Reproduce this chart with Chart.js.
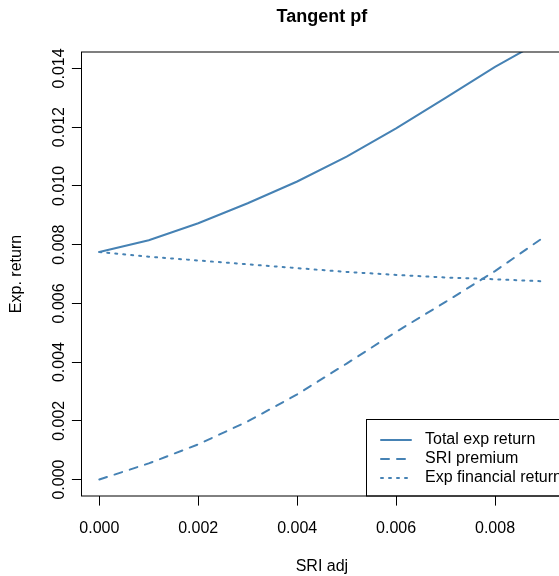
<!DOCTYPE html>
<html>
<head>
<meta charset="utf-8">
<script src="https://cdn.jsdelivr.net/npm/chart.js@4.4.0/dist/chart.umd.min.js"></script>
<style>
  html, body { margin: 0; padding: 0; background: #fff; overflow: hidden; }
  canvas { display: block; }
</style>
</head>
<body>
<canvas id="tangentChart" width="642" height="576"></canvas>
<script>
// values
const sriAdj = [0, 0.001, 0.002, 0.003, 0.004, 0.005, 0.006, 0.007, 0.008, 0.009];
const totalReturn = [0.00775, 0.00815, 0.00873, 0.00941, 0.01015, 0.0110, 0.01196, 0.0130, 0.01405, 0.0150];
const sriPremium = [0, 0.00055, 0.0012, 0.00198, 0.0029, 0.00395, 0.00503, 0.00605, 0.0071, 0.00827];
const financialReturn = [0.00775, 0.00759, 0.00746, 0.00733, 0.0072, 0.00707, 0.00697, 0.00688, 0.00682, 0.00675];

const xTicks = [0, 0.002, 0.004, 0.006, 0.008];
const yTicks = [0, 0.002, 0.004, 0.006, 0.008, 0.010, 0.012, 0.014];

const chartTitle = "Tangent pf";
const lineColor = "#4682B4";
const fontFamily = "'Liberation Sans', Arial, Helvetica, sans-serif";
Chart.defaults.font.family = fontFamily;
Chart.defaults.color = "#000";

function toPoints(ys) {
  return sriAdj.map((x, i) => ({ x: x, y: ys[i] }));
}

// title, box round the plot, rotated y labels and the legend, like base R
const rPlotExtras = {
  id: "rPlotExtras",
  afterDraw(chart) {
    const ctx = chart.ctx;
    const area = chart.chartArea;
    const yScale = chart.scales.y;
    ctx.save();

    ctx.fillStyle = "#000";
    ctx.font = "bold 18px " + fontFamily;
    ctx.textAlign = "center";
    ctx.textBaseline = "alphabetic";
    ctx.fillText(chartTitle, (area.left + area.right) / 2, 21.5);

    ctx.strokeStyle = "#000";
    ctx.lineWidth = 1;
    ctx.strokeRect(area.left, area.top, area.right - area.left, area.bottom - area.top);

    ctx.font = "16px " + fontFamily;
    yTicks.forEach(v => {
      ctx.save();
      ctx.translate(64, yScale.getPixelForValue(v));
      ctx.rotate(-Math.PI / 2);
      ctx.fillText(v.toFixed(3), 0, 0);
      ctx.restore();
    });

    // legend, bottom right
    const boxLeft = 366.5, boxTop = 419.5;
    ctx.strokeRect(boxLeft, boxTop, area.right - boxLeft, area.bottom - boxTop);
    ctx.textAlign = "left";
    ctx.textBaseline = "middle";
    chart.data.datasets.forEach((ds, i) => {
      const rowY = 440 + i * 19;
      ctx.beginPath();
      ctx.strokeStyle = ds.borderColor;
      ctx.lineWidth = ds.borderWidth;
      ctx.lineCap = "round";
      ctx.setLineDash(ds.borderDash || []);
      ctx.moveTo(381, rowY);
      ctx.lineTo(411, rowY);
      ctx.stroke();
      ctx.setLineDash([]);
      ctx.fillStyle = "#000";
      ctx.fillText(ds.label, 425, rowY);
    });
    ctx.restore();
  }
};

const ctxTangent = document.getElementById("tangentChart").getContext("2d");
const tangentChart = new Chart(ctxTangent, {
  type: "line",
  data: {
    datasets: [
      {
        label: "Total exp return",
        data: toPoints(totalReturn),
        borderColor: lineColor,
        borderWidth: 2,
        borderCapStyle: "round"
      },
      {
        label: "SRI premium",
        data: toPoints(sriPremium),
        borderColor: lineColor,
        borderWidth: 2,
        borderDash: [8, 8],
        borderCapStyle: "round"
      },
      {
        label: "Exp financial return",
        data: toPoints(financialReturn),
        borderColor: lineColor,
        borderWidth: 2,
        borderDash: [2, 6],
        borderCapStyle: "round"
      }
    ]
  },
  options: {
    responsive: false,
    devicePixelRatio: 1,
    animation: false,
    layout: { padding: { left: 0, right: 79.7, top: 52, bottom: 0 } },
    elements: { point: { radius: 0 }, line: { tension: 0, fill: false } },
    datasets: { line: { clip: 0 } },
    plugins: {
      legend: { display: false },
      tooltip: { enabled: false },
      title: { display: false }
    },
    scales: {
      x: {
        type: "linear",
        min: -0.00036,
        max: 0.00936,
        afterBuildTicks: s => { s.ticks = xTicks.map(v => ({ value: v })); },
        afterFit: s => { s.height = 80; },
        grid: { display: true, drawOnChartArea: false, drawTicks: true, tickLength: 9.6, color: "#000" },
        border: { display: false },
        ticks: {
          padding: 13.2,
          maxRotation: 0,
          font: { size: 16 },
          callback: v => v.toFixed(3)
        },
        title: { display: true, text: "SRI adj", font: { size: 16 }, padding: { top: 1, bottom: 0 } }
      },
      y: {
        type: "linear",
        min: -0.00056,
        max: 0.01456,
        afterBuildTicks: s => { s.ticks = yTicks.map(v => ({ value: v })); },
        afterFit: s => { s.width = 81.5; },
        grid: { display: true, drawOnChartArea: false, drawTicks: true, tickLength: 9.6, color: "#000" },
        border: { display: false },
        ticks: { display: false },
        title: { display: true, text: "Exp. return", font: { size: 16 }, padding: { top: 7, bottom: 0 } }
      }
    }
  },
  plugins: [rPlotExtras]
});
</script>
</body>
</html>
